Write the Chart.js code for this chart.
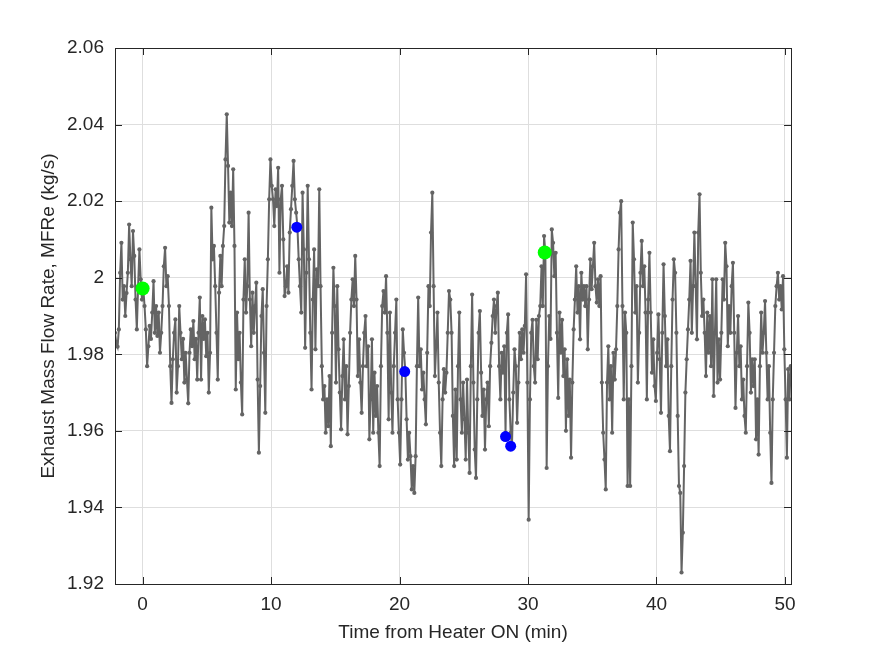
<!DOCTYPE html>
<html>
<head>
<meta charset="utf-8">
<script src="https://cdn.jsdelivr.net/npm/chart.js@4/dist/chart.umd.min.js"></script>
<style>
  body { margin: 0; background: #ffffff; }
  canvas { display: block; }
</style>
</head>
<body>
<canvas id="mfreChart" width="875" height="656" style="width:875px;height:656px"></canvas>
<script>
// sampled every 0.1 min, starting at -2.15 min
const tStart = -2.15;
const tStep = 0.1;
const mfre = [
  // -2.2 .. 4.4
  1.9856, 1.983, 1.982, 1.9865, 2.0013, 2.0091, 1.9943, 1.9978, 1.990, 1.996,
  2.0013, 2.0139, 2.0048, 1.9978, 2.0122, 2.0057, 1.9943, 1.9865, 1.9978, 2.0074,
  1.9996, 1.9943, 1.9972, 1.9926, 1.9865, 1.9769, 1.9821, 1.9874, 1.984, 1.9909,
  1.9991, 1.9856, 1.9926, 1.9848, 1.9909, 1.9804, 1.9856, 1.9926, 2.003, 2.0078,
  1.9978, 2.0004, 1.9926, 1.9769, 1.9673, 1.9787, 1.9856, 1.9891, 1.970, 1.9769,
  1.9926, 1.9856, 1.9787, 1.984, 1.9726, 1.9804, 1.9734, 1.9672, 1.9804, 1.9865,
  1.9821, 1.9887, 1.9787, 1.984, 1.9734, 1.9856, 1.9948,
  // 4.5 .. 11.0
  1.9734, 1.990, 1.984, 1.9891, 1.9795, 1.9856, 1.970, 1.9804, 2.0183, 2.0048,
  2.0083, 1.9978, 1.9856, 1.9734, 1.9961, 2.0057, 1.9978, 2.0083, 2.0135, 2.0309,
  2.0427, 2.0292, 2.0144, 2.0222, 2.0135, 2.0283, 2.0083, 1.9708, 1.9909, 1.9787,
  1.9856, 1.9726, 1.9643, 1.9943, 2.0048, 1.9909, 1.9978, 2.017, 1.9943, 1.9821,
  1.9961, 1.9856, 1.9926, 1.9987, 1.9734, 1.9543, 1.9717, 1.990, 1.997, 1.9804,
  1.9647, 1.9926, 2.0048, 2.0205, 2.0309, 2.024, 2.0205, 2.0135, 2.0231, 2.0187,
  2.0287, 2.0013, 2.0205, 2.024, 2.010, 1.9952,
  // 11.1 .. 17.6
  1.9978, 2.003, 1.9961, 2.0118, 2.0179, 2.024, 2.0305, 2.0205, 2.017, 2.0132,
  2.0048, 1.9978, 1.9909, 2.0222, 2.0074, 1.9817, 2.0013, 2.024, 2.0048, 1.9856,
  1.9708, 1.9943, 2.0074, 1.9813, 2.0022, 1.9978, 2.0231, 1.9978, 1.9769, 1.9682,
  1.9717, 1.9595, 1.9682, 1.9612, 1.9743, 1.956, 1.9856, 2.0026, 1.9926, 1.9726,
  1.9978, 1.9813, 1.970, 1.9604, 1.9743, 1.9839, 1.9682, 1.9769, 1.9591, 1.9717,
  1.9856, 1.9943, 1.9996, 1.9926, 2.0057, 1.9943, 1.9743, 1.9839, 1.9726, 1.9647,
  1.9769, 1.9856, 1.990, 1.9769, 1.9821, 1.9578,
  // 17.7 .. 24.3
  1.9682, 1.9839, 1.9595, 1.9752, 1.9639, 1.9717, 1.9595, 1.9508, 1.9769, 1.9926,
  1.9965, 1.9909, 2.0004, 1.9856, 1.963, 1.9909, 1.970, 1.9595, 1.9769, 1.9856,
  1.9943, 1.9682, 1.9595, 1.9512, 1.9682, 1.9865, 1.9804, 1.9755, 1.963, 1.9525,
  1.9595, 1.9534, 1.9447, 1.9508, 1.9438, 1.9534, 1.9769, 1.9948, 1.9769, 1.9813,
  1.9708, 1.9752, 1.9682, 1.9617, 1.9804, 1.9978, 1.9926, 2.0118, 2.0222, 1.9978,
  1.9743, 1.9821, 1.9909, 1.9726, 1.9595, 1.9508, 1.9682, 1.9761, 1.970, 1.9752,
  1.9856, 1.9965, 1.9943, 1.9856, 1.9639, 1.9508, 1.9708,
  // 24.4 .. 31.0
  1.9525, 1.9769, 1.9909, 1.9682, 1.9595, 1.9726, 1.963, 1.9525, 1.9734, 1.9595,
  1.949, 1.9769, 1.9956, 1.9726, 1.9551, 1.9477, 1.9682, 1.9856, 1.9913, 1.9752,
  1.9639, 1.9708, 1.9551, 1.9682, 1.9726, 1.9612, 1.9769, 1.983, 1.990, 1.9943,
  1.9856, 1.9926, 1.9961, 1.9769, 1.9682, 1.9804, 1.9752, 1.9821, 1.9595, 1.9856,
  1.9904, 1.9682, 1.9595, 1.956, 1.970, 1.9813, 1.9769, 1.9621, 1.9726, 1.9856,
  1.9787, 1.9865, 1.9804, 1.9874, 2.0009, 1.9726, 1.9368, 1.9682, 1.9856, 1.989,
  1.9769, 1.9726, 1.989, 1.9787, 1.990, 1.9926, 2.003,
  // 31.1 .. 37.7
  1.9926, 2.0109, 2.0066, 1.9503, 1.9769, 1.990, 1.984, 2.0126, 2.0091, 2.0004,
  2.0065, 1.9856, 1.9686, 1.9909, 1.9804, 1.989, 1.9743, 1.9813, 1.96, 1.9787,
  1.9639, 1.9734, 1.953, 1.9726, 1.9865, 1.9943, 2.003, 1.9909, 1.9978, 1.9839,
  2.0013, 1.9943, 1.9978, 1.9926, 1.9978, 1.9813, 1.9943, 2.0048, 1.997, 2.003,
  2.0091, 1.9978, 1.9935, 1.9996, 1.9926, 2.0004, 1.9726, 1.9595, 1.9525, 1.9447,
  1.9726, 1.9821, 1.9682, 1.9769, 1.9595, 1.9804, 1.9734, 1.9813, 1.9926, 2.0074,
  2.017, 2.02, 1.9926, 1.9682, 1.9909, 1.9856, 1.9456,
  // 37.8 .. 44.4
  1.9682, 1.9456, 1.9769, 2.0144, 2.0048, 1.9909, 1.9978, 1.9726, 1.9856, 2.0013,
  2.0096, 1.9978, 2.003, 1.9909, 1.9682, 1.9943, 2.0065, 1.9909, 1.9752, 1.9839,
  1.9717, 1.9678, 1.9804, 1.9904, 1.9787, 1.9647, 1.9856, 2.0035, 1.990, 1.9769,
  1.9839, 1.9639, 1.9547, 1.9769, 1.9943, 2.0048, 2.0013, 1.9856, 1.9639, 1.9456,
  1.9438, 1.923, 1.9334, 1.9508, 1.970, 1.9787, 1.9865, 1.9943, 2.0044, 1.9856,
  1.9978, 2.0118, 1.9978, 1.9839, 2.0118, 2.0218, 2.0013, 1.990, 1.9943, 1.9856,
  1.9743, 1.9909, 1.9804, 1.990, 1.9769, 1.9996, 1.9691,
  // 44.5 .. 50.4
  1.9856, 1.9996, 1.9726, 1.9839, 1.9734, 1.9856, 1.9996, 1.9943, 2.0091, 2.003,
  1.9821, 1.9926, 1.9856, 1.9978, 2.0039, 1.9856, 1.966, 1.9804, 1.990, 1.9769,
  1.9821, 1.9682, 1.9734, 1.9639, 1.9595, 1.9769, 1.9935, 1.9856, 1.970, 1.9787,
  1.9717, 1.9787, 1.9578, 1.9682, 1.9538, 1.9769, 1.9909, 1.9804, 1.9856, 1.9939,
  1.9804, 1.9682, 1.9769, 1.9595, 1.9464, 1.9682, 1.9804, 1.9926, 1.9978, 2.0013,
  1.9943, 1.9978, 1.9917, 2.0004, 1.9813, 1.9682, 1.953, 1.9761, 1.9682, 1.9769
];

// highlighted points
const greenT = [0, 31.3];
const greenV = [1.9972, 2.0066];
const blueT = [12.0, 20.4, 28.25, 28.65];
const blueV = [2.0132, 1.9755, 1.9585, 1.956];

const xTicks = [0, 10, 20, 30, 40, 50];
const yTicks = [1.92, 1.94, 1.96, 1.98, 2.00, 2.02, 2.04, 2.06];

const series = mfre.map((v, i) => ({ x: +(tStart + i * tStep).toFixed(2), y: v }));
const greenPts = greenT.map((t, i) => ({ x: t, y: greenV[i] }));
const bluePts = blueT.map((t, i) => ({ x: t, y: blueV[i] }));

const font = { family: "'Liberation Sans', Arial, sans-serif", size: 19 };
const axisColor = '#262626';

// matlab style box with inward ticks
const boxPlugin = {
  id: 'box',
  afterDatasetsDraw(chart) {
    const { ctx, chartArea: a, scales: { x, y } } = chart;
    ctx.save();
    ctx.strokeStyle = axisColor;
    ctx.lineWidth = 1;
    ctx.beginPath();
    xTicks.forEach(t => {
      const px = Math.round(x.getPixelForValue(t)) + 0.5;
      ctx.moveTo(px, a.bottom); ctx.lineTo(px, a.bottom - 7);
      ctx.moveTo(px, a.top); ctx.lineTo(px, a.top + 7);
    });
    yTicks.forEach(v => {
      const py = Math.round(y.getPixelForValue(v)) + 0.5;
      ctx.moveTo(a.left, py); ctx.lineTo(a.left + 7, py);
      ctx.moveTo(a.right, py); ctx.lineTo(a.right - 7, py);
    });
    ctx.stroke();
    ctx.strokeRect(Math.round(a.left) + 0.5, Math.round(a.top) + 0.5,
      Math.round(a.right - a.left), Math.round(a.bottom - a.top));
    ctx.restore();
  }
};

new Chart(document.getElementById('mfreChart'), {
  type: 'line',
  data: {
    datasets: [
      {
        label: 'green',
        type: 'scatter',
        data: greenPts,
        pointRadius: 7,
        pointBackgroundColor: '#00ff00',
        pointBorderWidth: 0,
        order: 0
      },
      {
        label: 'blue',
        type: 'scatter',
        data: bluePts,
        pointRadius: 5.5,
        pointBackgroundColor: '#0000ff',
        pointBorderWidth: 0,
        order: 0
      },
      {
        label: 'MFRe',
        data: series,
        borderColor: '#646464',
        borderWidth: 2,
        pointRadius: 2.1,
        pointBackgroundColor: '#646464',
        pointBorderWidth: 0,
        tension: 0,
        order: 1
      }
    ]
  },
  options: {
    responsive: false,
    animation: false,
    layout: { padding: { top: 48, right: 84, left: 0, bottom: 0 } },
    plugins: { legend: { display: false }, tooltip: { enabled: false } },
    scales: {
      x: {
        type: 'linear',
        min: -2.15,
        max: 50.47,
        afterBuildTicks: s => { s.ticks = xTicks.map(v => ({ value: v })); },
        afterFit: s => { s.height = 72; },
        grid: { color: '#dedede', drawTicks: false },
        border: { display: false },
        ticks: { font, color: axisColor, padding: 9, maxRotation: 0 },
        title: {
          display: true,
          text: 'Time from Heater ON (min)',
          font,
          color: axisColor,
          padding: { top: 0, bottom: 12 }
        }
      },
      y: {
        min: 1.92,
        max: 2.06,
        afterBuildTicks: s => { s.ticks = yTicks.map(v => ({ value: v })); },
        afterFit: s => { s.width = 115; },
        grid: { color: '#dedede', drawTicks: false },
        border: { display: false },
        ticks: {
          font,
          color: axisColor,
          padding: 11,
          callback: v => String(+v.toFixed(2))
        },
        title: {
          display: true,
          text: 'Exhaust Mass Flow Rate, MFRe (kg/s)',
          font,
          color: axisColor,
          padding: { top: 37, bottom: 0 }
        }
      }
    }
  },
  plugins: [boxPlugin]
});
</script>
</body>
</html>
